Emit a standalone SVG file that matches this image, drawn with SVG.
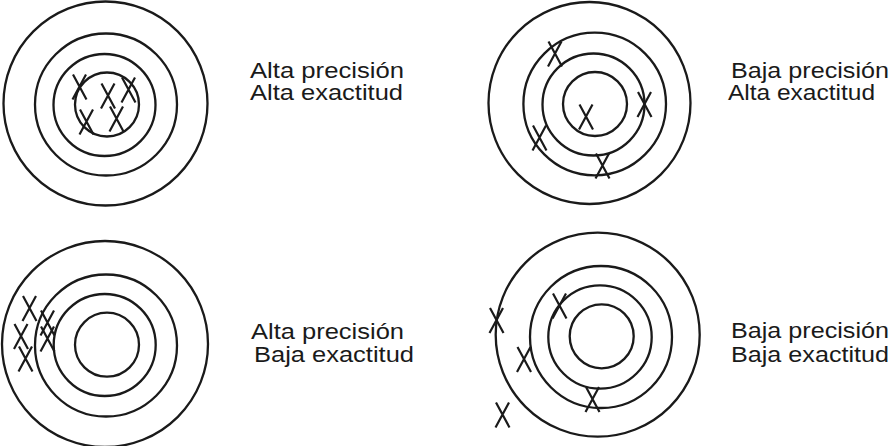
<svg xmlns="http://www.w3.org/2000/svg" xmlns:xlink="http://www.w3.org/1999/xlink" width="890" height="446" viewBox="0 0 890 446">
  <style>
    .ring { fill: none; stroke: #1a1a1a; stroke-width: 2.3; }
    .mark { fill: none; stroke: #1a1a1a; stroke-width: 2.2; stroke-linecap: butt; }
    .lbl { font-family: "Liberation Sans", Arial, sans-serif; font-size: 22px; fill: #1a1a1a; }
  </style>
  <defs>
    <path id="x" class="mark" d="M -6.5 -12.5 L 7 12.5 M 6.5 -12.5 L -7 12.5"/>
  </defs>
  <rect width="890" height="446" fill="#ffffff"/>

  <g id="target-alta-alta">
    <circle class="ring" cx="105.5" cy="103.5" r="102"/>
    <circle class="ring" cx="106" cy="104.5" r="71"/>
    <circle class="ring" cx="104.5" cy="105" r="51"/>
    <circle class="ring" cx="107" cy="104.5" r="32"/>
    <use href="#x" xlink:href="#x" x="79.5" y="87"/>
    <use href="#x" xlink:href="#x" x="108" y="96"/>
    <use href="#x" xlink:href="#x" x="128.5" y="90"/>
    <use href="#x" xlink:href="#x" x="86.5" y="122"/>
    <use href="#x" xlink:href="#x" x="116.5" y="119"/>
    <text class="lbl"><tspan x="250" y="77.5" textLength="154" lengthAdjust="spacingAndGlyphs">Alta precisión</tspan><tspan x="250" y="99.5" textLength="153" lengthAdjust="spacingAndGlyphs">Alta exactitud</tspan></text>
  </g>

  <g id="target-baja-alta">
    <circle class="ring" cx="589.5" cy="103" r="101"/>
    <circle class="ring" cx="594.7" cy="104" r="71.3"/>
    <circle class="ring" cx="593.5" cy="104.5" r="51"/>
    <circle class="ring" cx="595" cy="104" r="32"/>
    <use href="#x" xlink:href="#x" x="555" y="54"/>
    <use href="#x" xlink:href="#x" x="586" y="117"/>
    <use href="#x" xlink:href="#x" x="644.5" y="104.5"/>
    <use href="#x" xlink:href="#x" x="539.5" y="138"/>
    <use href="#x" xlink:href="#x" x="602.5" y="166"/>
    <text class="lbl"><tspan x="731" y="77.5" textLength="158" lengthAdjust="spacingAndGlyphs">Baja precisión</tspan><tspan x="728" y="99.5" textLength="147" lengthAdjust="spacingAndGlyphs">Alta exactitud</tspan></text>
  </g>

  <g id="target-alta-baja">
    <circle class="ring" cx="105" cy="344" r="103"/>
    <circle class="ring" cx="106" cy="345.5" r="71"/>
    <circle class="ring" cx="104.7" cy="345" r="51"/>
    <circle class="ring" cx="107" cy="344.7" r="32"/>
    <use href="#x" xlink:href="#x" x="29.5" y="308.5"/>
    <use href="#x" xlink:href="#x" x="21" y="336.5"/>
    <use href="#x" xlink:href="#x" x="25.5" y="359"/>
    <use href="#x" xlink:href="#x" x="47.5" y="323"/>
    <use href="#x" xlink:href="#x" x="47.5" y="339"/>
    <text class="lbl"><tspan x="251" y="338.5" textLength="153" lengthAdjust="spacingAndGlyphs">Alta precisión</tspan><tspan x="254" y="362" textLength="160" lengthAdjust="spacingAndGlyphs">Baja exactitud</tspan></text>
  </g>

  <g id="target-baja-baja">
    <circle class="ring" cx="597.7" cy="334.7" r="102"/>
    <circle class="ring" cx="601" cy="337" r="71"/>
    <circle class="ring" cx="600" cy="337" r="51.7"/>
    <circle class="ring" cx="601.7" cy="336.3" r="32"/>
    <use href="#x" xlink:href="#x" x="496.5" y="320.5"/>
    <use href="#x" xlink:href="#x" x="559.5" y="306"/>
    <use href="#x" xlink:href="#x" x="524" y="359.5"/>
    <use href="#x" xlink:href="#x" x="592.5" y="399.5"/>
    <use href="#x" xlink:href="#x" x="502.5" y="415"/>
    <text class="lbl"><tspan x="731" y="338" textLength="158" lengthAdjust="spacingAndGlyphs">Baja precisión</tspan><tspan x="731" y="362" textLength="158" lengthAdjust="spacingAndGlyphs">Baja exactitud</tspan></text>
  </g>
</svg>
